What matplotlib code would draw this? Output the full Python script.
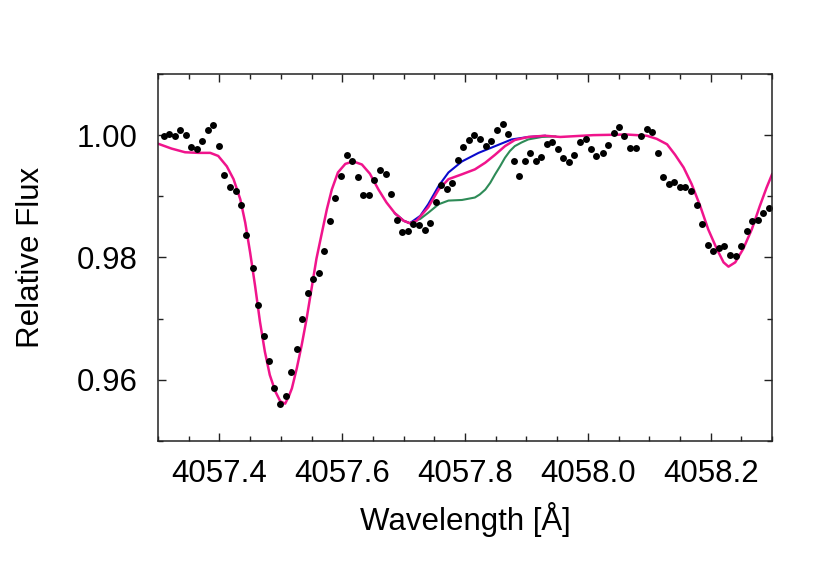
import matplotlib
matplotlib.use("Agg")
import matplotlib.pyplot as plt
from matplotlib.ticker import MultipleLocator

plt.rcParams["font.family"] = ["Liberation Sans", "DejaVu Sans"]

# observed spectrum (points)
obs_wave = [
    4057.309, 4057.318, 4057.327, 4057.336, 4057.345, 4057.354, 4057.363, 4057.372,
    4057.381, 4057.390, 4057.399, 4057.408, 4057.417, 4057.427, 4057.435, 4057.444,
    4057.454, 4057.462, 4057.472, 4057.481, 4057.489, 4057.499, 4057.508, 4057.517,
    4057.526, 4057.535, 4057.544, 4057.553, 4057.562, 4057.571, 4057.580, 4057.589,
    4057.598, 4057.607, 4057.616, 4057.625, 4057.634, 4057.644, 4057.652, 4057.662,
    4057.671, 4057.679, 4057.689, 4057.698, 4057.707, 4057.716, 4057.725, 4057.734,
    4057.743, 4057.752, 4057.761, 4057.770, 4057.779, 4057.788, 4057.797, 4057.807,
    4057.815, 4057.824, 4057.834, 4057.842, 4057.852, 4057.861, 4057.870, 4057.879,
    4057.888, 4057.897, 4057.906, 4057.915, 4057.924, 4057.933, 4057.942, 4057.951,
    4057.960, 4057.969, 4057.978, 4057.987, 4057.997, 4058.005, 4058.014, 4058.024,
    4058.032, 4058.042, 4058.051, 4058.059, 4058.069, 4058.078, 4058.087, 4058.096,
    4058.105, 4058.114, 4058.123, 4058.132, 4058.141, 4058.150, 4058.159, 4058.168,
    4058.177, 4058.186, 4058.195, 4058.204, 4058.214, 4058.222, 4058.232, 4058.241,
    4058.250, 4058.259, 4058.268, 4058.277, 4058.286, 4058.295,
]
obs_flux = [
    0.9999, 1.0002, 0.9998, 1.0008, 1.0000, 0.9980, 0.9977, 0.9991,
    1.0008, 1.0017, 0.9982, 0.9935, 0.9915, 0.9908, 0.9885, 0.9837,
    0.9783, 0.9722, 0.9672, 0.9631, 0.9587, 0.9560, 0.9573, 0.9612,
    0.9651, 0.9700, 0.9742, 0.9765, 0.9775, 0.9811, 0.9860, 0.9897,
    0.9933, 0.9967, 0.9957, 0.9931, 0.9902, 0.9902, 0.9927, 0.9943,
    0.9937, 0.9903, 0.9862, 0.9841, 0.9843, 0.9854, 0.9853, 0.9845,
    0.9856, 0.9891, 0.9918, 0.9912, 0.9921, 0.9960, 0.9980, 0.9992,
    1.0000, 0.9994, 0.9983, 0.9991, 1.0008, 1.0019, 1.0002, 0.9957,
    0.9934, 0.9957, 0.9970, 0.9957, 0.9964, 0.9986, 0.9989, 0.9977,
    0.9963, 0.9956, 0.9968, 0.9988, 0.9994, 0.9978, 0.9966, 0.9970,
    0.9984, 1.0004, 1.0013, 0.9998, 0.9979, 0.9979, 0.9998, 1.0010,
    1.0005, 0.9970, 0.9932, 0.9920, 0.9923, 0.9916, 0.9915, 0.9908,
    0.9885, 0.9854, 0.9820, 0.9810, 0.9815, 0.9818, 0.9804, 0.9802,
    0.9819, 0.9843, 0.9859, 0.9862, 0.9873, 0.9881,
]

# model with the blend (magenta)
pink_wave = [
    4057.300, 4057.322, 4057.344, 4057.366, 4057.385, 4057.398, 4057.412, 4057.423,
    4057.434, 4057.442, 4057.450, 4057.458, 4057.466, 4057.474, 4057.482, 4057.491,
    4057.499, 4057.507, 4057.513, 4057.518, 4057.526, 4057.534, 4057.542, 4057.550,
    4057.558, 4057.567, 4057.575, 4057.583, 4057.593, 4057.605, 4057.618, 4057.632,
    4057.645, 4057.659, 4057.672, 4057.686, 4057.700, 4057.710, 4057.721, 4057.740,
    4057.757, 4057.773, 4057.795, 4057.816, 4057.833, 4057.849, 4057.865, 4057.881,
    4057.903, 4057.930, 4057.955, 4058.009, 4058.063, 4058.096, 4058.112, 4058.129,
    4058.142, 4058.156, 4058.169, 4058.183, 4058.196, 4058.210, 4058.221, 4058.229,
    4058.240, 4058.253, 4058.267, 4058.280, 4058.291, 4058.300,
]
pink_flux = [
    0.9986, 0.9978, 0.9972, 0.9971, 0.9971, 0.9966, 0.9949, 0.9928,
    0.9895, 0.9857, 0.9808, 0.9754, 0.9695, 0.9646, 0.9608, 0.9581,
    0.9565, 0.9561, 0.9573, 0.9586, 0.9619, 0.9657, 0.9700, 0.9749,
    0.9798, 0.9841, 0.9879, 0.9911, 0.9939, 0.9953, 0.9957, 0.9952,
    0.9937, 0.9911, 0.9890, 0.9872, 0.9860, 0.9856, 0.9860, 0.9882,
    0.9911, 0.9928, 0.9936, 0.9944, 0.9955, 0.9968, 0.9982, 0.9992,
    0.9997, 0.9999, 0.9997, 1.0000, 1.0001, 0.9999, 0.9994, 0.9985,
    0.9968, 0.9947, 0.9920, 0.9884, 0.9846, 0.9814, 0.9792, 0.9785,
    0.9792, 0.9814, 0.9846, 0.9884, 0.9914, 0.9936,
]

# model without the blend (blue)
blue_wave = [4057.686, 4057.700, 4057.710, 4057.727, 4057.740, 4057.757, 4057.773,
             4057.795, 4057.822, 4057.849, 4057.876, 4057.903, 4057.930]
blue_flux = [0.9872, 0.9860, 0.9856, 0.9868, 0.9887, 0.9917, 0.9939,
             0.9957, 0.9971, 0.9982, 0.9993, 0.9997, 0.9999]

# alternative model (green)
green_wave = [4057.686, 4057.700, 4057.710, 4057.727, 4057.740, 4057.757, 4057.773,
              4057.795, 4057.816, 4057.824, 4057.833, 4057.841, 4057.849, 4057.857,
              4057.865, 4057.873, 4057.881, 4057.892, 4057.903, 4057.925, 4057.947]
green_flux = [0.9872, 0.9860, 0.9856, 0.9863, 0.9873, 0.9887, 0.9893,
              0.9894, 0.9898, 0.9903, 0.9911, 0.9922, 0.9936, 0.9949,
              0.9963, 0.9974, 0.9982, 0.9988, 0.9993, 0.9997, 0.9998]

fig = plt.figure(figsize=(8.3, 5.81), dpi=100)
ax = fig.add_axes([0.1904, 0.2410, 0.7398, 0.6317])

ax.plot(green_wave, green_flux, color="#2e8b57", lw=1.5)
ax.plot(blue_wave, blue_flux, color="#0a0acc", lw=1.5)
ax.plot(pink_wave, pink_flux, color="#f0148c", lw=1.8)
ax.plot(obs_wave, obs_flux, "o", color="black", ms=5, mec="none")

ax.set_xlim(4057.3, 4058.3)
ax.set_ylim(0.95, 1.01)
ax.xaxis.set_major_locator(MultipleLocator(0.2))
ax.xaxis.set_minor_locator(MultipleLocator(0.05))
ax.yaxis.set_major_locator(MultipleLocator(0.02))
ax.yaxis.set_minor_locator(MultipleLocator(0.01))
ax.xaxis.set_major_formatter(plt.FormatStrFormatter("%.1f"))
ax.yaxis.set_major_formatter(plt.FormatStrFormatter("%.2f"))

ax.tick_params(which="both", direction="in", top=True, right=True,
               labelsize=22.5, color="#222222", width=1.0)
ax.tick_params(which="major", length=6)
ax.tick_params(which="minor", length=3.5)
ax.tick_params(axis="x", which="major", pad=13)
ax.tick_params(axis="y", which="major", pad=15)
for s in ax.spines.values():
    s.set_linewidth(1.1)
    s.set_color("#222222")

ax.set_xlabel("Wavelength [Å]", fontsize=22.5, labelpad=9.5)
ax.set_ylabel("Relative Flux", fontsize=22.5)
ax.yaxis.set_label_coords(-0.183, 0.5)

fig.savefig("out.png", dpi=100)
